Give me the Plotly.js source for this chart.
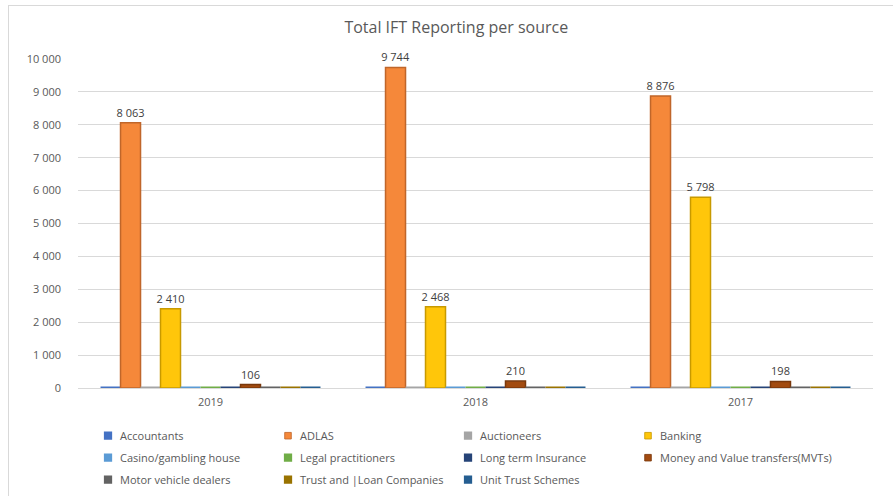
<!DOCTYPE html>
<html>
<head>
<meta charset="utf-8">
<script src="https://cdn.plot.ly/plotly-3.0.1.min.js"></script>
<style>
  html, body { margin: 0; padding: 0; background: #ffffff; overflow: hidden; }
  #chart { width: 893px; height: 496px; position: relative; }
  #frame { position: absolute; left: 8px; top: 5px; width: 1000px; height: 600px;
           border-top: 1px solid #d9d9d9; border-left: 1px solid #d9d9d9; pointer-events: none; }
</style>
</head>
<body>
<div id="chart"></div>
<div id="frame"></div>
<script>
const years = ["2019", "2018", "2017"];
const seriesNames = [
  "Accountants", "ADLAS", "Auctioneers", "Banking",
  "Casino/gambling house", "Legal practitioners", "Long term Insurance", "Money and Value transfers(MVTs)",
  "Motor vehicle dealers", "Trust and |Loan Companies", "Unit Trust Schemes"
];
const accountants = [0, 0, 0];
const adlas = [8063, 9744, 8876];
const auctioneers = [0, 0, 0];
const banking = [2410, 2468, 5798];
const casino = [0, 0, 0];
const legal = [0, 0, 0];
const longTerm = [0, 0, 0];
const mvts = [106, 210, 198];
const motorVehicle = [0, 0, 0];
const trustLoan = [0, 0, 0];
const unitTrust = [0, 0, 0];
const yTickVals = [0, 1000, 2000, 3000, 4000, 5000, 6000, 7000, 8000, 9000, 10000];

const seriesValues = [accountants, adlas, auctioneers, banking, casino, legal, longTerm, mvts, motorVehicle, trustLoan, unitTrust];
const colors = ["#4472C4", "#F5883A", "#A5A5A5", "#FFC60A", "#5B9BD5", "#70AD47",
                "#264478", "#A24B10", "#636363", "#997300", "#255E91"];
const edgeColors = ["#4472C4", "#C0662A", "#A5A5A5", "#C89A00", "#5B9BD5", "#70AD47",
                    "#264478", "#7A380C", "#636363", "#997300", "#255E91"];

function fmt(v) {
  return String(v).replace(/\B(?=(\d{3})+(?!\d))/g, " ");
}

const traces = seriesNames.map((name, i) => {
  const allZero = seriesValues[i].every(v => v === 0);
  return {
    type: "bar",
    name: name,
    x: years,
    y: seriesValues[i],
    text: seriesValues[i].map(v => v > 0 ? fmt(v) : ""),
    textposition: "outside",
    constraintext: "none",
    textfont: { family: "Open Sans, sans-serif", size: 11, color: "#404040" },
    cliponaxis: false,
    marker: { color: colors[i], line: { color: edgeColors[i], width: allZero ? 3 : 1.5 } },
    hoverinfo: "skip"
  };
});

const layout = {
  width: 893, height: 496,
  margin: { l: 78, r: 20, t: 59, b: 108, autoexpand: false },
  paper_bgcolor: "#ffffff",
  plot_bgcolor: "#ffffff",
  separators: ". ",
  font: { family: "Open Sans, sans-serif", size: 11, color: "#595959" },
  title: {
    text: "Total IFT Reporting per source",
    font: { family: "Open Sans, sans-serif", size: 16, color: "#595959" },
    x: 0.511, xanchor: "center", y: 0.945, yanchor: "middle"
  },
  barmode: "group",
  bargap: 0.17,
  bargroupgap: 0,
  xaxis: {
    type: "category",
    tickfont: { size: 11, color: "#595959" },
    showline: true, linecolor: "#d9d9d9", linewidth: 1,
    ticks: "", showgrid: false, fixedrange: true, ticklabelstandoff: 4
  },
  yaxis: {
    range: [0, 10000],
    tickvals: yTickVals,
    tickformat: ",d",
    tickfont: { size: 11, color: "#595959" },
    showgrid: true, gridcolor: "#d9d9d9", gridwidth: 1,
    zeroline: false, ticks: "", ticklabelstandoff: 16, fixedrange: true
  },
  legend: {
    orientation: "h",
    x: 0.0126, xanchor: "left",
    y: -0.094, yanchor: "top",
    entrywidth: 135, entrywidthmode: "pixels",
    font: { size: 11, color: "#595959" },
    itemclick: false, itemdoubleclick: false
  },
  showlegend: true
};

Plotly.newPlot("chart", traces, layout, { displayModeBar: false, staticPlot: true }).then(() => {
  // Excel-like small legend squares, tighter text gap and slightly taller rows
  document.querySelectorAll("#chart .legend .scrollbox").forEach(sb => sb.removeAttribute("clip-path"));
  document.querySelectorAll("#chart .legend .traces").forEach(g => {
    const t = g.getAttribute("transform") || "";
    const m = t.match(/translate\(([-\d.]+)[ ,]+([-\d.]+)\)/);
    if (m) {
      const x = parseFloat(m[1]);
      const y = parseFloat(m[2]);
      g.setAttribute("transform", "translate(" + x + "," + (y * 22 / 19) + ")");
    }
    g.querySelectorAll(".legendpoints path").forEach(p => {
      p.setAttribute("transform", "translate(20,0) scale(0.55)");
    });
    const txt = g.querySelector("text.legendtext");
    if (txt) txt.setAttribute("x", "32");
  });
});
</script>
</body>
</html>
